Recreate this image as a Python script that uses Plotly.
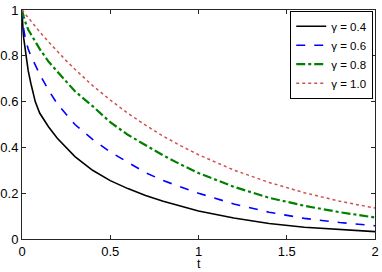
import plotly.graph_objects as go

t = [0, 0.001, 0.003, 0.006, 0.01, 0.02, 0.035, 0.05, 0.075, 0.1, 0.15, 0.2, 0.25, 0.3,
     0.4, 0.5, 0.6, 0.7, 0.8, 0.9, 1.0, 1.2, 1.4, 1.6, 1.8, 2.0]

g04 = [1.0, 0.965, 0.94, 0.91, 0.875, 0.81, 0.735, 0.68, 0.60, 0.55, 0.49, 0.44, 0.40, 0.36,
       0.30, 0.255, 0.22, 0.19, 0.165, 0.142, 0.122, 0.092, 0.068, 0.051, 0.040, 0.032]
g06 = [1.0, 0.985, 0.965, 0.94, 0.915, 0.87, 0.83, 0.80, 0.76, 0.72, 0.65, 0.59, 0.545, 0.50,
       0.435, 0.38, 0.335, 0.29, 0.255, 0.226, 0.20, 0.153, 0.117, 0.090, 0.072, 0.058]
g08 = [1.0, 0.995, 0.99, 0.98, 0.97, 0.945, 0.915, 0.895, 0.86, 0.83, 0.775, 0.73, 0.685, 0.645,
       0.58, 0.51, 0.455, 0.41, 0.365, 0.325, 0.288, 0.228, 0.180, 0.145, 0.117, 0.094]
g10 = [1.0, 0.999, 0.997, 0.994, 0.99, 0.98, 0.966, 0.951, 0.928, 0.905, 0.861, 0.819, 0.779, 0.741,
       0.670, 0.607, 0.549, 0.497, 0.449, 0.407, 0.368, 0.301, 0.247, 0.202, 0.165, 0.135]

series = [
    ("γ = 0.4", g04, "#000000", "solid", 1.6),
    ("γ = 0.6", g06, "#0000ff", "dash", 1.6),
    ("γ = 0.8", g08, "#008000", "dashdot", 2.2),
    ("γ = 1.0", g10, "#d05050", "dot", 1.5),
]

fig = go.Figure()
for name, ys, col, dash, w in series:
    fig.add_trace(go.Scatter(x=t, y=ys, mode="lines", name=name,
                             line=dict(color=col, dash=dash, width=w)))

font = dict(family="Liberation Sans, Arial", size=13, color="#000")
axis_common = dict(showgrid=False, zeroline=False, showline=True, linecolor="#262626",
                   linewidth=1, mirror="ticks", ticks="inside", ticklen=4,
                   tickcolor="#262626", tickfont=font, automargin=False,
                   ticklabeloverflow="allow")

fig.update_xaxes(range=[0, 2], tickvals=[0, 0.5, 1, 1.5, 2], ticktext=["0", "0.5", "1", "1.5", "2"],
                 ticklabelstandoff=0, **axis_common)
fig.update_yaxes(range=[0, 1], tickvals=[0, 0.2, 0.4, 0.6, 0.8, 1], ticktext=["0", "0.2", "0.4", "0.6", "0.8", "1"],
                 **axis_common)

fig.add_annotation(text="t", x=0.5, y=-0.11, xref="paper", yref="paper",
                   xanchor="center", yanchor="middle", showarrow=False,
                   font=dict(family="Liberation Sans, Arial", size=12.5, color="#000"),
                   borderpad=0)

fig.update_layout(
    width=382, height=272,
    margin=dict(l=22, r=7, t=10, b=33, autoexpand=False),
    plot_bgcolor="white", paper_bgcolor="white",
    font=font,
    legend=dict(x=0.995, xanchor="right", y=0.997, yanchor="top",
                bordercolor="#000", borderwidth=1, bgcolor="white",
                font=dict(family="Liberation Sans, Arial", size=11.5, color="#000"),
                tracegroupgap=0, itemwidth=30),
    showlegend=True,
)

fig.write_html("out.html", config={"displayModeBar": False},
               post_script="document.body.style.margin='0';")
